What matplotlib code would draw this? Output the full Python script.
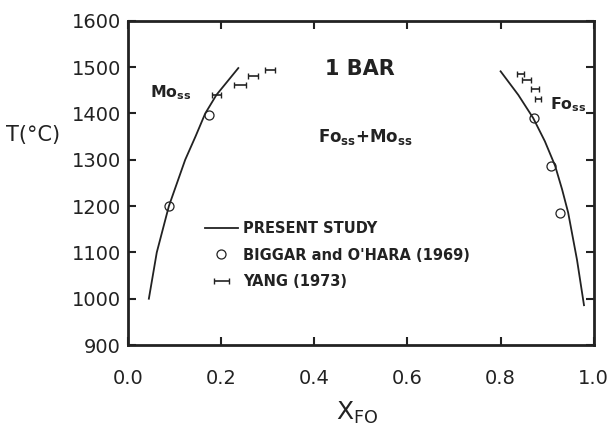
import matplotlib
matplotlib.use('Agg')
import matplotlib.pyplot as plt

plt.rcParams['font.family'] = 'DejaVu Sans'
plt.rcParams['mathtext.default'] = 'regular'

INK = '#222222'

# present study, Mo-rich limb (x_Fo, T)
mo_x = [0.045, 0.062, 0.088, 0.123, 0.145, 0.166, 0.190, 0.237]
mo_T = [1000, 1100, 1200, 1300, 1350, 1400, 1440, 1498]
# present study, Fo-rich limb
fo_x = [0.800, 0.838, 0.870, 0.895, 0.917, 0.932, 0.945, 0.964, 0.979]
fo_T = [1491, 1440, 1390, 1340, 1287, 1236, 1186, 1084, 986]

# Biggar and O'Hara (1969)
bo_x = [0.088, 0.174, 0.872, 0.908, 0.928]
bo_T = [1200, 1397, 1390, 1287, 1186]

# Yang (1973), composition brackets
yang_x = [0.190, 0.241, 0.269, 0.305, 0.843, 0.856, 0.874, 0.880]
yang_xerr = [0.010, 0.013, 0.011, 0.011, 0.007, 0.009, 0.009, 0.006]
yang_T = [1439, 1461, 1480, 1494, 1485, 1473, 1453, 1432]

fig = plt.figure(figsize=(6.09, 4.34), dpi=100)
ax = fig.add_axes([0.210, 0.205, 0.765, 0.747])

ax.plot(mo_x, mo_T, color=INK, lw=1.3, label='PRESENT STUDY')
ax.plot(fo_x, fo_T, color=INK, lw=1.3)
ax.plot(bo_x, bo_T, 'o', mfc='none', mec=INK, ms=6.5, mew=0.9,
        label="BIGGAR and O'HARA (1969)")
ax.errorbar(yang_x, yang_T, xerr=yang_xerr, fmt='none', ecolor=INK,
            elinewidth=1.2, capsize=2, capthick=1.0, label='YANG (1973)')

ax.set_xlim(0, 1)
ax.set_ylim(900, 1600)
ax.set_xticks([0.0, 0.2, 0.4, 0.6, 0.8, 1.0])
ax.set_yticks(range(900, 1601, 100))
ax.set_xticklabels(['0.0', '0.2', '0.4', '0.6', '0.8', '1.0'])
ax.tick_params(direction='in', top=True, right=True, length=6, width=1.5,
               color=INK, labelcolor=INK, labelsize=14)
ax.tick_params(axis='x', pad=17)
ax.tick_params(axis='y', pad=5)
for s in ax.spines.values():
    s.set_linewidth(2)
    s.set_color(INK)

ax.text(0.423, 1495, '1 BAR', fontsize=15, fontweight='bold', color=INK,
        va='center')
ax.text(0.047, 1445, 'Mo$_{ss}$', fontsize=11.3, fontweight='bold', color=INK,
        va='center')
ax.text(0.408, 1350, 'Fo$_{ss}$+Mo$_{ss}$', fontsize=12, fontweight='bold',
        color=INK, va='center')
ax.text(0.907, 1419, 'Fo$_{ss}$', fontsize=11.3, fontweight='bold', color=INK,
        va='center')

ax.legend(loc='upper left', bbox_to_anchor=(0.1655, 0.383), frameon=False,
          borderpad=0, borderaxespad=0, handlelength=2.26, handletextpad=0.35,
          labelspacing=0.8, prop={'size': 10.5, 'weight': 'bold'},
          labelcolor=INK)

fig.text(33 / 609, 1 - 135 / 434, 'T(°C)', fontsize=15, color=INK,
         ha='center', va='center')
fig.text(357 / 609, 1 - 413 / 434, 'X$_{FO}$', fontsize=18, color=INK,
         ha='center', va='center')

fig.savefig('out.png', dpi=100, facecolor='white')
